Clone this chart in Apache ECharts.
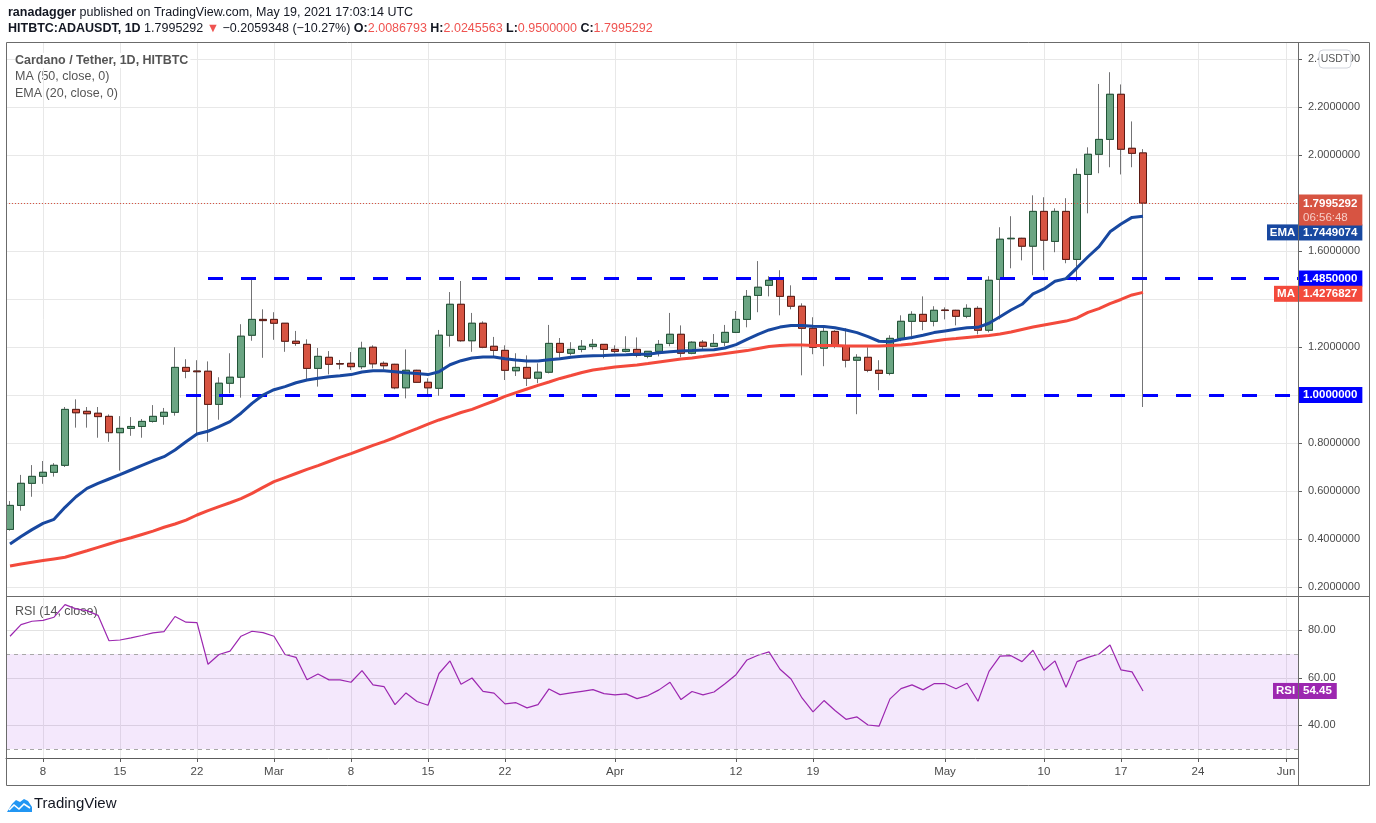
<!DOCTYPE html>
<html><head><meta charset="utf-8">
<script src="https://cdn.jsdelivr.net/npm/echarts@6/dist/echarts.min.js"></script>
<style>html,body{margin:0;padding:0;background:#fff;}#c{width:1376px;height:823px;}</style>
</head><body><div id="c"></div>
<script>
// ---------- data ----------
const dates = ['Feb 5','Feb 6','Feb 7','Feb 8','Feb 9','Feb 10','Feb 11','Feb 12','Feb 13','Feb 14','Feb 15','Feb 16','Feb 17','Feb 18','Feb 19','Feb 20','Feb 21','Feb 22','Feb 23','Feb 24','Feb 25','Feb 26','Feb 27','Feb 28',
'Mar 1','Mar 2','Mar 3','Mar 4','Mar 5','Mar 6','Mar 7','Mar 8','Mar 9','Mar 10','Mar 11','Mar 12','Mar 13','Mar 14','Mar 15','Mar 16','Mar 17','Mar 18','Mar 19','Mar 20','Mar 21','Mar 22','Mar 23','Mar 24','Mar 25','Mar 26','Mar 27','Mar 28','Mar 29','Mar 30','Mar 31',
'Apr 1','Apr 2','Apr 3','Apr 4','Apr 5','Apr 6','Apr 7','Apr 8','Apr 9','Apr 10','Apr 11','Apr 12','Apr 13','Apr 14','Apr 15','Apr 16','Apr 17','Apr 18','Apr 19','Apr 20','Apr 21','Apr 22','Apr 23','Apr 24','Apr 25','Apr 26','Apr 27','Apr 28','Apr 29','Apr 30',
'May 1','May 2','May 3','May 4','May 5','May 6','May 7','May 8','May 9','May 10','May 11','May 12','May 13','May 14','May 15','May 16','May 17','May 18','May 19'];

const opens = [0.440,0.540,0.632,0.661,0.678,0.707,0.940,0.932,0.924,0.911,0.843,0.861,0.869,0.890,0.911,0.928,1.115,1.100,1.099,0.961,1.049,1.074,1.249,1.315,1.315,
1.299,1.224,1.211,1.111,1.157,1.131,1.132,1.118,1.199,1.132,1.128,1.030,1.103,1.053,1.028,1.249,1.378,1.226,1.299,1.203,1.186,1.101,1.115,1.070,1.095,
1.215,1.174,1.190,1.203,1.211,1.190,1.182,1.190,1.161,1.182,1.215,1.253,1.174,1.220,1.203,1.220,1.261,1.315,1.415,1.457,1.482,1.411,1.370,1.278,
1.195,1.265,1.203,1.145,1.157,1.103,1.090,1.236,1.307,1.336,1.307,1.354,1.353,1.328,1.361,1.270,1.482,1.651,1.653,1.620,1.765,1.640,1.765,1.565,
1.919,2.003,2.065,2.253,2.028,2.0086793];

const closes = [0.540,0.632,0.661,0.678,0.707,0.940,0.926,0.922,0.910,0.843,0.861,0.869,0.890,0.911,0.928,1.115,1.099,1.097,0.961,1.049,1.074,1.245,1.315,1.310,1.299,
1.224,1.215,1.111,1.161,1.128,1.129,1.118,1.195,1.130,1.122,1.030,1.103,1.053,1.030,1.249,1.378,1.226,1.299,1.199,1.186,1.103,1.115,1.070,1.095,1.215,
1.178,1.190,1.203,1.211,1.190,1.182,1.190,1.165,1.182,1.211,1.253,1.174,1.220,1.203,1.215,1.261,1.315,1.411,1.449,1.478,1.411,1.370,1.278,1.199,
1.265,1.203,1.145,1.157,1.103,1.090,1.236,1.307,1.336,1.307,1.353,1.352,1.328,1.361,1.270,1.478,1.649,1.653,1.620,1.765,1.645,1.765,1.565,1.919,
2.003,2.065,2.253,2.024,2.007,1.7995292];

const highs = [0.558,0.667,0.708,0.725,0.716,0.950,0.982,0.950,0.950,0.919,0.912,0.908,0.900,0.958,0.946,1.199,1.149,1.145,1.140,1.074,1.174,1.295,1.486,1.357,1.345,
1.300,1.267,1.232,1.196,1.183,1.146,1.179,1.222,1.207,1.140,1.130,1.190,1.105,1.070,1.271,1.429,1.475,1.342,1.307,1.242,1.207,1.174,1.165,1.132,1.292,
1.2375,1.220,1.229,1.233,1.212,1.207,1.245,1.240,1.183,1.229,1.342,1.290,1.224,1.229,1.254,1.292,1.350,1.4375,1.558,1.495,1.520,1.457,1.382,1.324,
1.286,1.270,1.278,1.170,1.199,1.145,1.249,1.332,1.349,1.411,1.370,1.365,1.355,1.378,1.370,1.495,1.699,1.745,1.655,1.832,1.824,1.778,1.820,1.944,
2.032,2.296,2.345,2.294,2.140,2.0245563];

const lows = [0.435,0.518,0.576,0.630,0.660,0.700,0.864,0.864,0.822,0.805,0.685,0.830,0.822,0.885,0.876,0.914,1.070,0.830,0.805,0.897,1.007,0.989,1.226,1.155,1.230,
1.180,1.205,1.067,1.035,1.086,1.107,1.104,1.108,1.111,1.107,1.024,0.986,1.050,0.997,0.997,1.201,1.222,1.180,1.195,1.157,1.0625,1.079,1.0375,1.049,1.090,
1.155,1.165,1.178,1.190,1.153,1.174,1.178,1.157,1.153,1.161,1.203,1.157,1.170,1.190,1.200,1.203,1.258,1.282,1.345,1.411,1.332,1.357,1.082,1.170,
1.120,1.195,1.115,0.920,1.095,1.020,1.082,1.224,1.232,1.270,1.286,1.315,1.290,1.320,1.253,1.261,1.315,1.528,1.561,1.499,1.520,1.595,1.549,1.474,
1.757,1.924,1.949,1.919,1.949,0.9500000];

const ema20 = [0.379,0.410,0.439,0.465,0.482,0.532,0.576,0.611,0.632,0.650,0.668,0.6875,0.707,0.726,0.743,0.771,0.805,0.8375,0.849,0.868,0.889,0.924,0.965,1.000,1.022,
1.035,1.051,1.0625,1.070,1.076,1.080,1.085,1.096,1.101,1.101,1.097,1.093,1.090,1.085,1.097,1.126,1.143,1.154,1.158,1.158,1.151,1.146,1.142,1.142,1.147,
1.151,1.157,1.161,1.164,1.165,1.167,1.168,1.170,1.170,1.176,1.180,1.183,1.185,1.1875,1.189,1.196,1.210,1.232,1.253,1.271,1.283,1.290,1.290,1.286,
1.285,1.280,1.271,1.260,1.243,1.224,1.222,1.232,1.240,1.249,1.260,1.267,1.274,1.280,1.282,1.299,1.326,1.354,1.378,1.421,1.442,1.474,1.485,1.530,
1.576,1.618,1.680,1.7125,1.740,1.7449074];

const ma50 = [0.2875,0.296,0.303,0.310,0.317,0.324,0.3375,0.351,0.365,0.379,0.393,0.405,0.419,0.433,0.449,0.4625,0.479,0.500,0.518,0.535,0.551,0.568,0.590,0.615,0.639,
0.656,0.673,0.690,0.706,0.723,0.740,0.756,0.773,0.790,0.806,0.823,0.842,0.860,0.879,0.896,0.911,0.927,0.940,0.958,0.975,0.994,1.010,1.025,1.040,1.054,
1.069,1.081,1.094,1.104,1.110,1.117,1.121,1.125,1.131,1.1375,1.144,1.150,1.154,1.160,1.167,1.173,1.179,1.185,1.194,1.202,1.206,1.208,1.208,1.206,
1.206,1.206,1.204,1.204,1.204,1.204,1.206,1.208,1.2125,1.219,1.225,1.231,1.235,1.240,1.244,1.248,1.254,1.2625,1.273,1.283,1.292,1.300,1.308,1.321,
1.344,1.360,1.381,1.398,1.417,1.4276827];

const rsi14 = [77.5,82.4,83.8,84.2,85.5,90.8,89.0,88.3,86.3,75.6,75.9,76.8,77.8,78.9,79.4,85.8,83.4,83.2,65.7,69.8,71.2,77.5,79.6,79.0,77.5,
69.8,68.6,59.2,61.6,59.1,59.1,58.1,63.0,57.0,56.3,48.7,53.6,50.0,48.4,61.8,67.1,57.3,59.9,54.3,53.5,49.0,49.5,47.3,48.7,55.3,52.9,53.6,54.3,
55.0,53.3,52.8,53.2,51.2,52.5,54.9,58.1,50.8,54.2,52.8,54.0,57.5,61.3,67.5,69.5,70.9,63.6,59.5,51.5,45.6,50.4,46.2,42.5,43.5,40.1,39.6,
51.1,55.4,57.0,54.9,57.5,57.5,55.4,57.7,50.1,62.7,69.1,69.3,66.8,71.6,63.2,67.1,56.0,66.8,68.6,70.0,73.8,63.3,62.5,54.45];

const xTickIdx  = [3,10,17,24,31,38,45,55,66,73,85,94,101,108,116];
const xTickText = ['8','15','22','Mar','8','15','22','Apr','12','19','May','10','17','24','Jun'];
const priceTicks = [0.2,0.4,0.6,0.8,1.0,1.2,1.4,1.6,1.8,2.0,2.2,2.4];
const priceTickLabels = [0.2,0.4,0.6,0.8,1.2,1.6,2.0,2.2,2.4];
const rsiTicks = [40,60,80];
const rsiBand = [30,70];
const levels = [1.485, 1.0];
const levelStart = [18, 16];
const countdown = '06:56:48';

// ---------- chart ----------
const F = '"Liberation Sans", Arial, sans-serif';
const xMin = -0.364, xMax = 117.09;
const fmt7 = v => v.toFixed(7);
const last = a => a[a.length - 1];
const CLEAR = 'rgba(0,0,0,0)';

const candleFull = dates.map((d, i) => [i, opens[i], closes[i], lows[i], highs[i]]);
const candleBody = dates.map((d, i) => [i, opens[i], closes[i], Math.min(opens[i], closes[i]), Math.max(opens[i], closes[i])]);
const emaData = ema20.map((v, i) => [i, v]);
const maData = ma50.map((v, i) => [i, v]);
const rsiData = rsi14.map((v, i) => [i, v]);

// label pill on the price scale; dy nudges it apart from a neighbouring pill, as the platform does
function tagLabel(tag, value, color, tagW, dy) {
  return {
    show: true, position: 'end', distance: 1, offset: [-(tagW + 7), dy || 0],
    formatter: '{a|' + tag + '}{g|}{b|' + value + '}',
    rich: {
      a: {backgroundColor: color, color: '#fff', fontFamily: F, fontSize: 11.5, fontWeight: 'bold', width: tagW, align: 'center', padding: [2, 3, 2, 3]},
      g: {width: 1},
      b: {backgroundColor: color, color: '#fff', fontFamily: F, fontSize: 11.5, fontWeight: 'bold', padding: [2, 5, 2, 4]}
    }
  };
}
function valLabel(value, color) {
  return {
    show: true, position: 'end', distance: 1,
    formatter: '{b|' + value + '}',
    rich: {b: {backgroundColor: color, color: '#fff', fontFamily: F, fontSize: 11.5, fontWeight: 'bold', padding: [2, 5, 2, 4]}}
  };
}

const option = {
  animation: false,
  backgroundColor: '#ffffff',
  textStyle: {fontFamily: F},
  grid: [
    {left: 6, right: 78, top: 43, height: 553},
    {left: 6, right: 78, top: 598, height: 160}
  ],
  xAxis: [
    {type: 'value', gridIndex: 0, min: xMin, max: xMax,
     axisLine: {show: false}, axisTick: {show: false, customValues: xTickIdx}, axisLabel: {show: false},
     splitLine: {show: true, lineStyle: {color: '#e8e8e8', width: 1}}},
    {type: 'value', gridIndex: 1, min: xMin, max: xMax,
     axisLine: {show: true, onZero: false, lineStyle: {color: '#5c5c5c'}},
     axisTick: {show: true, length: 4, customValues: xTickIdx, lineStyle: {color: '#5c5c5c'}},
     axisLabel: {show: true, customValues: xTickIdx, margin: 8, color: '#4a4a4a', fontSize: 11.5, fontFamily: F,
       formatter: v => { const k = xTickIdx.indexOf(Math.round(v)); return k >= 0 ? xTickText[k] : ''; }},
     splitLine: {show: true, lineStyle: {color: '#e8e8e8', width: 1}}}
  ],
  yAxis: [
    {type: 'value', gridIndex: 0, position: 'right', min: 0.1625, max: 2.4667,
     axisLine: {show: true, onZero: false, lineStyle: {color: '#5c5c5c'}},
     axisTick: {show: true, length: 4, customValues: priceTicks, lineStyle: {color: '#5c5c5c'}},
     axisLabel: {show: true, customValues: priceTickLabels, margin: 10, color: '#4a4a4a', fontSize: 11, fontFamily: F, formatter: v => fmt7(v)},
     splitLine: {show: true, lineStyle: {color: '#e8e8e8', width: 1}}},
    {type: 'value', gridIndex: 1, position: 'right', min: 26.2, max: 93.6,
     axisLine: {show: true, onZero: false, lineStyle: {color: '#5c5c5c'}},
     axisTick: {show: true, length: 4, customValues: rsiTicks, lineStyle: {color: '#5c5c5c'}},
     axisLabel: {show: true, customValues: rsiTicks, margin: 10, color: '#4a4a4a', fontSize: 11, fontFamily: F, formatter: v => v.toFixed(2)},
     splitLine: {show: true, lineStyle: {color: '#e2e2e2', width: 1}}}
  ],
  series: [
    {name: 'wicks', type: 'candlestick', xAxisIndex: 0, yAxisIndex: 0, barWidth: 7, z: 2,
     data: candleFull,
     itemStyle: {color: '#6ba583', color0: '#d75442', borderColor: '#737375', borderColor0: '#737375', borderWidth: 1},
     markLine: {
       symbol: ['none', 'none'], silent: true, animation: false, z: 8,
       data: [
         {yAxis: last(closes), lineStyle: {color: '#d75442', type: [1, 2], width: 1},
          label: {show: true, position: 'end', distance: 1, offset: [0, 7],
            formatter: '{v|' + fmt7(last(closes)) + '}\n{t|' + countdown + '}',
            backgroundColor: '#d75442', padding: [2, 5, 1, 4],
            rich: {v: {color: '#fff', fontFamily: F, fontSize: 11.5, fontWeight: 'bold', lineHeight: 14},
                   t: {color: '#f7cdc6', fontFamily: F, fontSize: 11.5, lineHeight: 14}}}}
       ]
     }},
    {name: 'bodies', type: 'candlestick', xAxisIndex: 0, yAxisIndex: 0, barWidth: 7, z: 3,
     data: candleBody,
     itemStyle: {color: '#6ba583', color0: '#d75442', borderColor: '#225437', borderColor0: '#5b1a13', borderWidth: 1},
     markLine: {
       symbol: ['none', 'none'], silent: true, animation: false,
       lineStyle: {color: '#0000ff', width: 3, type: [15, 18]},
       data: levels.map((lv, k) => [
         {coord: [levelStart[k], lv], label: valLabel(fmt7(lv), '#0000ff')},
         {coord: [xMax, lv]}
       ])
     }},
    {name: 'MA (50, close, 0)', type: 'line', xAxisIndex: 0, yAxisIndex: 0, z: 4,
     data: maData, showSymbol: false, smooth: false,
     lineStyle: {color: '#f34a3c', width: 3},
     markLine: {symbol: ['none', 'none'], silent: true, animation: false,
       data: [{yAxis: last(ma50), lineStyle: {color: CLEAR, width: 0}, label: tagLabel('MA', fmt7(last(ma50)), '#f34a3c', 18, 2)}]}},
    {name: 'EMA (20, close, 0)', type: 'line', xAxisIndex: 0, yAxisIndex: 0, z: 5,
     data: emaData, showSymbol: false, smooth: false,
     lineStyle: {color: '#1848a0', width: 3},
     markLine: {symbol: ['none', 'none'], silent: true, animation: false,
       data: [{yAxis: last(ema20), lineStyle: {color: CLEAR, width: 0}, label: tagLabel('EMA', fmt7(last(ema20)), '#1848a0', 25, 15)}]}},
    {name: 'RSI (14, close)', type: 'line', xAxisIndex: 1, yAxisIndex: 1, z: 4,
     data: rsiData, showSymbol: false, smooth: false,
     lineStyle: {color: '#9c27b0', width: 1.2},
     markArea: {silent: true, itemStyle: {color: 'rgba(155,47,230,0.11)'},
       data: [[{yAxis: rsiBand[0]}, {yAxis: rsiBand[1]}]]},
     markLine: {symbol: ['none', 'none'], silent: true, animation: false,
       data: [
         {yAxis: rsiBand[0], lineStyle: {color: '#a8a8a8', type: [4, 4], width: 1}, label: {show: false}},
         {yAxis: rsiBand[1], lineStyle: {color: '#a8a8a8', type: [4, 4], width: 1}, label: {show: false}},
         {yAxis: last(rsi14), lineStyle: {color: CLEAR, width: 0}, label: tagLabel('RSI', last(rsi14).toFixed(2), '#9c27b0', 19, 0)}
       ]}}
  ],
  graphic: [
    {type: 'text', x: 8, y: 6, style: {
      text: '{b|ranadagger} published on TradingView.com, May 19, 2021 17:03:14 UTC',
      font: '12.5px ' + F, fill: '#131722',
      rich: {b: {fontWeight: 'bold', fontSize: 12.5, fontFamily: F, fill: '#131722'}}}},
    {type: 'text', x: 8, y: 22, style: {
      text: '{b|HITBTC:ADAUSDT, 1D} 1.7995292 {r|▼} −0.2059348 (−10.27%) {b|O:}{r|2.0086793} {b|H:}{r|2.0245563} {b|L:}{r|0.9500000} {b|C:}{r|1.7995292}',
      font: '12.5px ' + F, fill: '#131722',
      rich: {b: {fontWeight: 'bold', fontSize: 12.5, fontFamily: F, fill: '#131722'},
             r: {fontSize: 12.5, fontFamily: F, fill: '#ef5350'}}}},
    {type: 'text', x: 15, y: 53, z: 5, style: {text: 'Cardano / Tether, 1D, HITBTC', font: 'bold 12.5px ' + F, fill: '#555555', backgroundColor: '#ffffff', padding: [1, 2, 1, 0]}},
    {type: 'text', x: 15, y: 70, style: {text: 'MA (50, close, 0)', font: '12.5px ' + F, fill: '#555555'}},
    {type: 'text', x: 15, y: 87, style: {text: 'EMA (20, close, 0)', font: '12.5px ' + F, fill: '#555555'}},
    {type: 'text', x: 15, y: 605, style: {text: 'RSI (14, close)', font: '12.5px ' + F, fill: '#555555'}},
    {type: 'rect', shape: {x: 6.5, y: 42.5, width: 1363, height: 743}, style: {fill: 'none', stroke: '#6b6b6b', lineWidth: 1}, z: 10},
    {type: 'line', shape: {x1: 6, y1: 596.5, x2: 1370, y2: 596.5}, style: {stroke: '#6b6b6b', lineWidth: 1}, z: 10},
    {type: 'line', shape: {x1: 1298.5, y1: 43, x2: 1298.5, y2: 786}, style: {stroke: '#6b6b6b', lineWidth: 1}, z: 10},
    {type: 'rect', z: 20, shape: {x: 1319, y: 50, width: 32, height: 18, r: 4}, style: {fill: '#ffffff', stroke: '#d1d4dc', lineWidth: 1}},
    {type: 'text', z: 21, x: 1335, y: 59, style: {text: 'USDT', font: '10.5px ' + F, fill: '#555', align: 'center', verticalAlign: 'middle'}},
    {type: 'polygon', shape: {points: [[7, 812], [12, 804], [16, 800], [20, 802], [24, 799], [28, 801], [32, 807], [32, 812]]}, style: {fill: '#2196f3'}},
    {type: 'polyline', shape: {points: [[9, 810], [14, 805], [19, 809], [24, 804], [30, 808]]}, style: {stroke: '#ffffff', lineWidth: 1.6, fill: 'none'}},
    {type: 'text', x: 34, y: 796, style: {text: 'TradingView', font: '15px ' + F, fill: '#131722'}}
  ]
};
const chart = echarts.init(document.getElementById('c'));
chart.setOption(option);
</script>
</body></html>
